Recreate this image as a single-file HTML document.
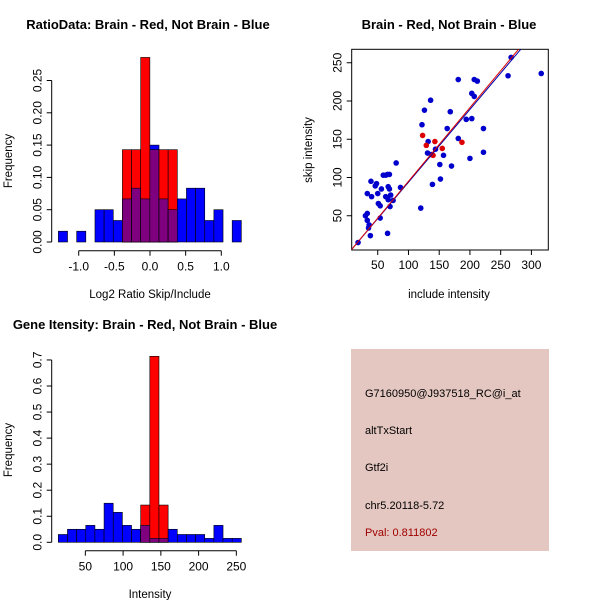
<!DOCTYPE html>
<html><head><meta charset="utf-8"><style>
body{margin:0;background:#fff;}
svg{display:block;font-family:"Liberation Sans",sans-serif;}
</style></head><body>
<svg id="chart" width="600" height="600" viewBox="0 0 600 600" xmlns="http://www.w3.org/2000/svg">
<rect x="0" y="0" width="600" height="600" fill="#fff"/>
<g id="p1"></g>
<g id="p2"></g>
<g id="p3"></g>
<g id="p4">
<rect x="351" y="349" width="198" height="202" fill="#e4c7c0"/>
<text x="365" y="397" font-size="11" fill="#000">G7160950@J937518_RC@i_at</text>
<text x="365" y="434" font-size="11" fill="#000">altTxStart</text>
<text x="365" y="471" font-size="11" fill="#000">Gtf2i</text>
<text x="365" y="509" font-size="11" fill="#000">chr5.20118-5.72</text>
<text x="365" y="536" font-size="11" fill="#a00000">Pval: 0.811802</text>
</g>
</svg>
<script>
// ---- Plot 1 data ----
const ratioBinStart = -1.285;
const ratioBinWidth = 0.1283;
const ratioBlue = [0.0167,0,0.0167,0,0.05,0.05,0.0333,0.0667,0.0833,0.0667,0.15,0.0667,0.05,0.0667,0.0833,0.0833,0.0333,0.05,0,0.0333];
const ratioRed  = [0,0,0,0,0,0,0,0.1429,0.1429,0.2857,0.1429,0.1429,0.1429,0,0,0,0,0,0,0];
const ratioXTicks = [-1.0,-0.5,0.0,0.5,1.0];
const ratioXTickLabels = ["-1.0","-0.5","0.0","0.5","1.0"];
const ratioYTicks = [0,0.05,0.10,0.15,0.20,0.25];
const ratioYTickLabels = ["0.00","0.05","0.10","0.15","0.20","0.25"];

// ---- Plot 2 data ----
const blueInclude = [18,30,33,33,35,36,38,33,39,40,46,48,50,51,54,54,56,59,63,66,69,63,67,69,67,71,70,75,66,80,87,120,122,126,136,132,131,137,139,144,152,151,157,163,168,170,181,181,194,200,203,203,207,212,207,222,222,262,267,316];
const blueSkip    = [15,50,53,44,34,38,24,79,95,75,89,92,79,66,63,47,85,103,103,104,104,75,88,85,71,77,62,70,27,119,87,60,169,188,201,147,132,130,91,137,98,117,129,164,186,115,228,151,176,125,177,210,228,226,206,164,133,233,257,236];
const redInclude  = [123,129,143,140,155,187];
const redSkip     = [155,142,147,129,138,146];
const redFit  = [-1.3,0.9635];
const blueFit = [-1.2,0.951];
const scXTicks = [50,100,150,200,250,300];
const scYTicks = [50,100,150,200,250];

// ---- Plot 3 data ----
const intBinStart = 14.2;
const intBinWidth = 12.12;
const intBlue = [0.03,0.05,0.05,0.065,0.05,0.15,0.115,0.065,0.05,0.065,0.015,0.015,0.05,0.03,0.03,0.03,0.015,0.065,0.015,0.015];
const intRed  = [0,0,0,0,0,0,0,0,0,0.143,0.714,0.143,0,0,0,0,0,0,0,0];
const intXTicks = [50,100,150,200,250];
const intYTicks = [0,0.1,0.2,0.3,0.4,0.5,0.6,0.7];
const intYTickLabels = ["0.0","0.1","0.2","0.3","0.4","0.5","0.6","0.7"];

const NS="http://www.w3.org/2000/svg";
function mk(parent,tag,attrs,txt){const e=document.createElementNS(NS,tag);for(const k in attrs)e.setAttribute(k,attrs[k]);if(txt!==undefined)e.textContent=txt;parent.appendChild(e);return e;}

function histogram(g,cfg){
  const sx=v=>cfg.x0+(v-cfg.dx0)*cfg.kx;
  const sy=v=>cfg.y0-v*cfg.ky;
  for(let i=0;i<cfg.blue.length;i++){
    const a=cfg.start+i*cfg.width,b=a+cfg.width;
    const hb=cfg.blue[i],hr=cfg.red[i];
    if(hb>0){const r=mk(g,'rect',{x:sx(a),y:sy(hb),width:sx(b)-sx(a),height:sy(0)-sy(hb),fill:'#0000ff',stroke:'#000','stroke-width':0.6});
      
      }
    if(hr>0){const r=mk(g,'rect',{x:sx(a),y:sy(hr),width:sx(b)-sx(a),height:sy(0)-sy(hr),fill:'#ff0000',stroke:'#000','stroke-width':0.6});
      
      }
    const m=Math.min(hb,hr);
    if(m>0){const r=mk(g,'rect',{x:sx(a),y:sy(m),width:sx(b)-sx(a),height:sy(0)-sy(m),fill:'#7f007f',stroke:'#000','stroke-width':0.6});
      
      }
  }
  const xa=cfg.xTicks;
  const ax=mk(g,'line',{x1:sx(xa[0]),x2:sx(xa[xa.length-1]),y1:cfg.xAxisY,y2:cfg.xAxisY,stroke:'#000'});
  
  
  xa.forEach((v,i)=>{mk(g,'line',{x1:sx(v),x2:sx(v),y1:cfg.xAxisY,y2:cfg.xAxisY+5,stroke:'#000'});
    const t=mk(g,'text',{x:sx(v),y:cfg.xAxisY+20,'font-size':12,'text-anchor':'middle'},cfg.xLabels[i]);
    
    });
  const ya=cfg.yTicks;
  const ay=mk(g,'line',{x1:cfg.yAxisX,x2:cfg.yAxisX,y1:sy(ya[0]),y2:sy(ya[ya.length-1]),stroke:'#000'});
  
  
  ya.forEach((v,i)=>{mk(g,'line',{x1:cfg.yAxisX-5,x2:cfg.yAxisX,y1:sy(v),y2:sy(v),stroke:'#000'});
    const t=mk(g,'text',{x:0,y:0,'font-size':12,'text-anchor':'middle',transform:`translate(${cfg.yAxisX-10},${sy(v)}) rotate(-90)`},cfg.yLabels[i]);
    
    });
  const tl=mk(g,'text',{x:cfg.titleX,y:cfg.titleY,'font-size':13,'font-weight':'bold','text-anchor':'middle'},cfg.title);
  
  
  const xl=mk(g,'text',{x:cfg.xlabX,y:cfg.xlabY,'font-size':11.5,'text-anchor':'middle'},cfg.xlab);
  
  
  const yl=mk(g,'text',{x:0,y:0,'font-size':11.5,'text-anchor':'middle',transform:`translate(12,${cfg.ylabY}) rotate(-90)`},'Frequency');
  
  
}

histogram(document.getElementById('p1'),{x0:150,dx0:0,kx:71.3,y0:242,ky:646,start:ratioBinStart,width:ratioBinWidth,
  blue:ratioBlue,red:ratioRed,xTicks:ratioXTicks,xLabels:ratioXTickLabels,yTicks:ratioYTicks,yLabels:ratioYTickLabels,
  xAxisY:250.7,yAxisX:51.7,title:'RatioData: Brain - Red, Not Brain - Blue',titleX:148,titleY:29,xlab:'Log2 Ratio Skip/Include',xlabX:150,xlabY:298,ylabY:161});

histogram(document.getElementById('p3'),{x0:47.6,dx0:0,kx:0.755,y0:542.3,ky:260.5,start:intBinStart,width:intBinWidth,
  blue:intBlue,red:intRed,xTicks:intXTicks,xLabels:intXTicks.map(String),yTicks:intYTicks,yLabels:intYTickLabels,
  xAxisY:550.7,yAxisX:51.7,title:'Gene Itensity: Brain - Red, Not Brain - Blue',titleX:145,titleY:329,xlab:'Intensity',xlabX:150,xlabY:598,ylabY:450});

(function(){
  const g=document.getElementById('p2');
  const L=351.7,R=548.3,T=49.3,B=250;
  const sx=v=>347+v*0.6147, sy=v=>254-v*0.765;
  const fr=mk(g,'rect',{x:L,y:T,width:R-L,height:B-T,fill:'none',stroke:'#000'});
  
  
  const cp=mk(g,'clipPath',{id:'clip2'});mk(cp,'rect',{x:L,y:T,width:R-L,height:B-T});
  blueInclude.forEach((v,i)=>{const c=mk(g,'circle',{cx:sx(v),cy:sy(blueSkip[i]),r:2.8,fill:'#0000cc'});
    
    });
  redInclude.forEach((v,i)=>{const c=mk(g,'circle',{cx:sx(v),cy:sy(redSkip[i]),r:2.8,fill:'#dd0000'});
    
    });
  [[blueFit,'#0000aa','blue-fit-line'],[redFit,'#dd0000','red-fit-line']].forEach(([f,col,nm])=>{
    const x1=-20,x2=340;
    const l=mk(g,'line',{x1:sx(x1),y1:sy(f[0]+f[1]*x1),x2:sx(x2),y2:sy(f[0]+f[1]*x2),stroke:col,'stroke-width':1,'clip-path':'url(#clip2)'});
    
    });
  scXTicks.forEach(v=>{mk(g,'line',{x1:sx(v),x2:sx(v),y1:B,y2:B+5,stroke:'#000'});
    const t=mk(g,'text',{x:sx(v),y:B+19,'font-size':12,'text-anchor':'middle'},String(v));
    
    });
  scYTicks.forEach(v=>{mk(g,'line',{x1:L-5,x2:L,y1:sy(v),y2:sy(v),stroke:'#000'});
    const t=mk(g,'text',{x:0,y:0,'font-size':12,'text-anchor':'middle',transform:`translate(${L-10},${sy(v)}) rotate(-90)`},String(v));
    
    });
  const tl=mk(g,'text',{x:449,y:29,'font-size':13,'font-weight':'bold','text-anchor':'middle'},'Brain - Red, Not Brain - Blue');
  
  
  const xl=mk(g,'text',{x:449,y:298,'font-size':11.5,'text-anchor':'middle'},'include intensity');
  
  
  const yl=mk(g,'text',{x:0,y:0,'font-size':11.5,'text-anchor':'middle',transform:`translate(312,150) rotate(-90)`},'skip intensity');
  
  
})();
</script>
</body></html>
